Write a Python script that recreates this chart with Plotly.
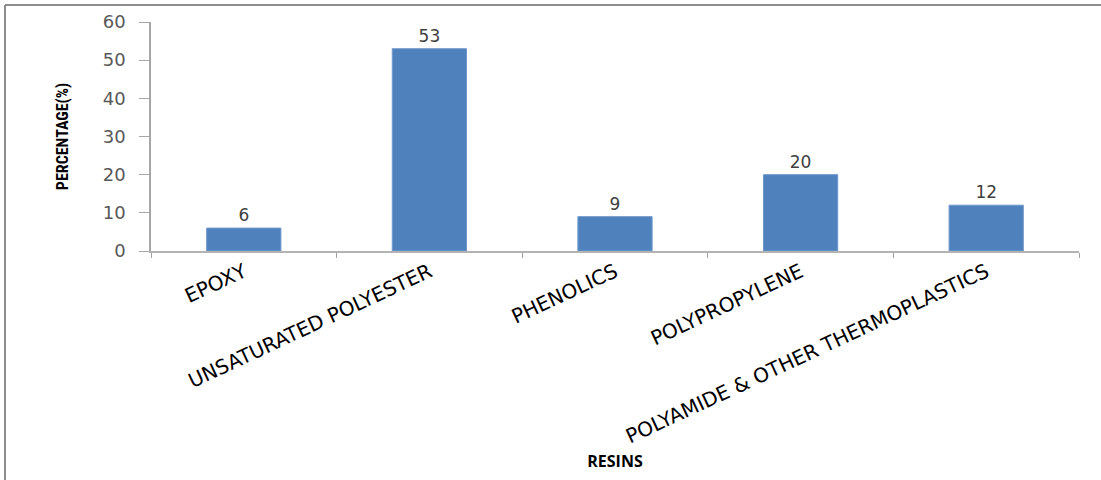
import plotly.graph_objects as go

# Resin share data
resins = ["EPOXY", "UNSATURATED POLYESTER", "PHENOLICS", "POLYPROPYLENE",
          "POLYAMIDE & OTHER THERMOPLASTICS"]
percentages = [6, 53, 9, 20, 12]
y_ticks = [0, 10, 20, 30, 40, 50, 60]

W, H = 1101, 480
L, R, T, B = 151, 22, 22, 229
plot_w = W - L - R
plot_h = H - T - B


def px_x(px):
    return (px - L) / plot_w


def px_y(py):
    return (H - B - py) / plot_h


fig = go.Figure(
    go.Bar(
        x=resins,
        y=percentages,
        marker=dict(color="#4F81BD", line=dict(color="#6E98CC", width=1)),
        text=[str(v) for v in percentages],
        textposition="outside",
        textfont=dict(family="DejaVu Sans", size=17, color="#404040"),
        cliponaxis=False,
    )
)

fig.update_layout(
    width=W,
    height=H,
    margin=dict(l=L, r=R, t=T, b=B, autoexpand=False),
    paper_bgcolor="white",
    plot_bgcolor="white",
    bargap=0.6,
    showlegend=False,
    xaxis=dict(
        tickangle=-25,
        tickfont=dict(family="DejaVu Sans", size=20, color="black"),
        showline=True,
        linecolor="#B3B3B3",
        linewidth=1.5,
        ticks="outside",
        tickson="boundaries",
        ticklen=5,
        tickcolor="#A0A0A0",
        showgrid=False,
        automargin=False,
        title=dict(text="<b>RESINS</b>",
                   font=dict(family="Open Sans", size=16, color="black"),
                   standoff=8),
    ),
    yaxis=dict(
        range=[0, 60],
        tickvals=y_ticks,
        tickfont=dict(family="DejaVu Sans", size=18, color="#595959"),
        showline=True,
        linecolor="#A6A6A6",
        linewidth=1.5,
        ticks="outside",
        ticklen=10,
        tickcolor="#A6A6A6",
        ticklabelstandoff=10,
        showgrid=False,
        zeroline=False,
        automargin=False,
        title=dict(text="<b>PERCENTAGE(%)</b>",
                   font=dict(family="Roboto Condensed, Liberation Sans Narrow, Liberation Sans",
                             size=16, color="black"),
                   standoff=30),
    ),
    shapes=[
        # chart frame: left and top edges
        dict(type="line", xref="paper", yref="paper",
             x0=px_x(5), x1=px_x(5), y0=px_y(5), y1=px_y(480),
             line=dict(color="#8C8C8C", width=2)),
        dict(type="line", xref="paper", yref="paper",
             x0=px_x(5), x1=px_x(1101), y0=px_y(5), y1=px_y(5),
             line=dict(color="#8C8C8C", width=2)),
    ],
)

fig.write_html("out.html")
